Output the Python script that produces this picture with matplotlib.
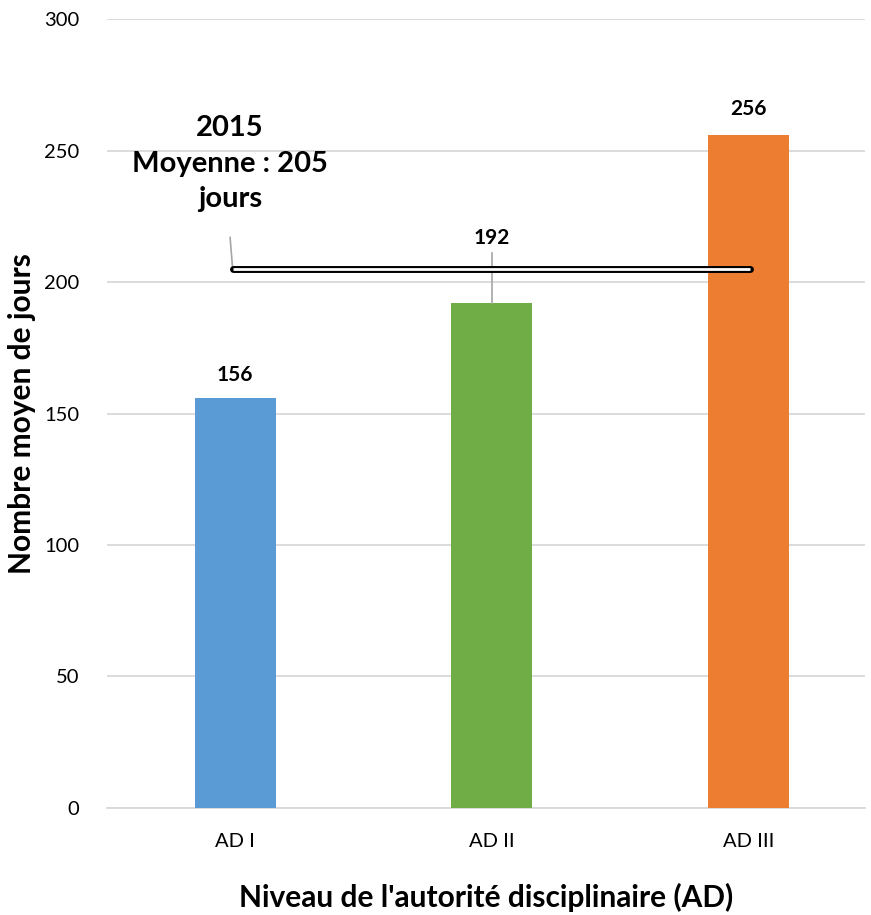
import numpy as np
import matplotlib.pyplot as plt

plt.rcParams['font.family'] = ['Lato', 'DejaVu Sans']

categories = ['AD I', 'AD II', 'AD III']
values = [156, 192, 256]
colors = ['#5b9bd5', '#70ad47', '#ed7d31']
moyenne = 205

fig = plt.figure(figsize=(8.71, 9.15), dpi=100)
ax = fig.add_axes([0.1228, 0.117, 0.870, 0.862])

x = np.arange(len(categories))
ax.bar(x, values, width=0.316, color=colors, zorder=3)

ax.set_xlim(-0.5, 2.454)
ax.set_ylim(0, 300)
ax.set_yticks(range(0, 301, 50))
ax.set_xticks(x)
ax.set_xticklabels(categories)
ax.tick_params(axis='both', length=0, labelsize=14.5)
ax.tick_params(axis='x', pad=18)
ax.tick_params(axis='y', pad=20)
ax.grid(axis='y', color='#d9d9d9', linewidth=1.3, zorder=0)
for s in ['top', 'right', 'left']:
    ax.spines[s].set_visible(False)
ax.spines['bottom'].set_color('#d9d9d9')
ax.spines['bottom'].set_linewidth(1.3)

# value labels
ax.text(0, 161, str(values[0]), ha='center', va='bottom', fontsize=15, fontweight='bold')
ax.text(1.0, 213, str(values[1]), ha='center', va='bottom', fontsize=15, fontweight='bold')
ax.text(2, 262, str(values[2]), ha='center', va='bottom', fontsize=15, fontweight='bold')
ax.plot([1.0, 1.0], [192, 211], color='#a6a6a6', linewidth=1.2, zorder=4)

# mean line (double line)
ax.plot([-0.01, 2.006], [moyenne, moyenne], color='black', linewidth=5,
        solid_capstyle='round', zorder=5)
ax.plot([-0.01, 2.006], [moyenne, moyenne], color='white', linewidth=2,
        solid_capstyle='butt', zorder=6)
ax.plot([-0.02, -0.01], [217, moyenne], color='#a6a6a6', linewidth=1.2, zorder=4)
ax.text(-0.02, 245, '2015\nMoyenne : %d\njours' % moyenne, ha='center', va='center',
        fontsize=21, fontweight='bold', linespacing=1.45)

ax.set_ylabel('Nombre moyen de jours', fontsize=21.5, fontweight='bold', labelpad=6)
ax.set_xlabel("Niveau de l'autorité disciplinaire (AD)", fontsize=21.5,
              fontweight='bold', labelpad=24)

fig.savefig('out.png', dpi=100)
